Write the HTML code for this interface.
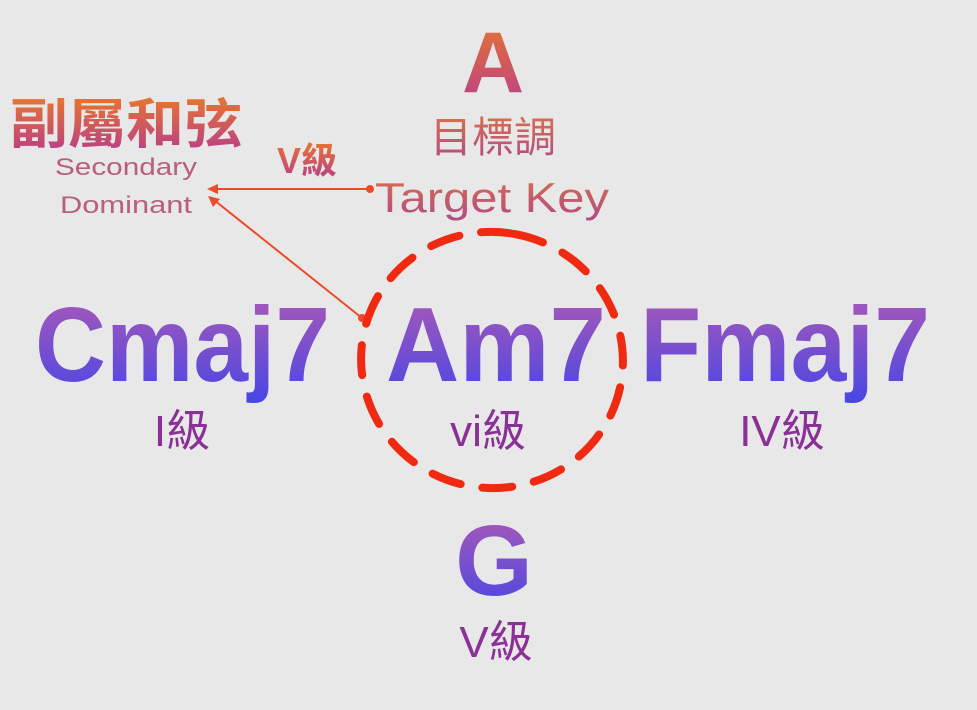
<!DOCTYPE html>
<html><head><meta charset="utf-8"><style>
html,body{margin:0;padding:0;background:#e8e8e8;}
svg{display:block;}
</style></head><body>
<svg width="977" height="710" viewBox="0 0 977 710" xmlns="http://www.w3.org/2000/svg">
<defs>
<linearGradient id="pg" x1="0" y1="0" x2="0" y2="1">
<stop offset="0" stop-color="#b05ab4"/><stop offset="1" stop-color="#4646e6"/>
</linearGradient>
<linearGradient id="og" x1="0" y1="0" x2="0" y2="1">
<stop offset="0" stop-color="#e8782c"/><stop offset="1" stop-color="#b83c8c"/>
</linearGradient>
<linearGradient id="og2" x1="0" y1="0" x2="0" y2="1">
<stop offset="0" stop-color="#d9704a"/><stop offset="1" stop-color="#b24a88"/>
</linearGradient>
</defs>
<rect width="977" height="710" fill="#e8e8e8"/>
<g font-family="'Liberation Sans','Noto Sans CJK TC',sans-serif">
<text x="493" y="92" font-size="86" font-weight="bold" fill="url(#og)" text-anchor="middle">A</text>
<text x="493" y="152" font-size="42" fill="url(#og2)" text-anchor="middle">目標調</text>
<text x="492" y="212" font-size="42" fill="url(#og2)" text-anchor="middle" textLength="234" lengthAdjust="spacingAndGlyphs">Target Key</text>
<text x="10" y="143" font-size="54" font-weight="bold" fill="url(#og)" textLength="232" lengthAdjust="spacingAndGlyphs">副屬和弦</text>
<text x="126" y="175" font-size="24" fill="#b8607a" text-anchor="middle" textLength="142" lengthAdjust="spacingAndGlyphs">Secondary</text>
<text x="126" y="213" font-size="24" fill="#b8607a" text-anchor="middle" textLength="132" lengthAdjust="spacingAndGlyphs">Dominant</text>
<text x="307" y="173" font-size="36" font-weight="bold" fill="url(#og)" text-anchor="middle">V級</text>
<g stroke="#ee4a2a" stroke-width="2" fill="#ee4a2a">
<line x1="370" y1="189" x2="214" y2="189"/>
<circle cx="370" cy="189" r="3"/>
<polygon points="207,189 218,184 218,194" stroke="none"/>
<line x1="362" y1="318" x2="214" y2="200"/>
<circle cx="362" cy="318" r="3"/>
<polygon points="208,196 220,199 213,207" stroke="none"/>
</g>
<ellipse cx="492" cy="360" rx="128" ry="131" fill="none" stroke="#f02a10" stroke-width="8" stroke-linecap="round" stroke-dasharray="30 22" transform="rotate(-80 492 360)"/>
<text x="35" y="381" font-size="106" font-weight="bold" fill="url(#pg)" textLength="295" lengthAdjust="spacingAndGlyphs">Cmaj7</text>
<text x="386" y="381" font-size="106" font-weight="bold" fill="url(#pg)" textLength="220" lengthAdjust="spacingAndGlyphs">Am7</text>
<text x="640" y="381" font-size="106" font-weight="bold" fill="url(#pg)" textLength="290" lengthAdjust="spacingAndGlyphs">Fmaj7</text>
<text x="494" y="595" font-size="100" font-weight="bold" fill="url(#pg)" text-anchor="middle">G</text>
<g fill="#8a3096" font-size="44" text-anchor="middle">
<text x="182" y="446">I級</text>
<text x="488" y="446">vi級</text>
<text x="782" y="446">IV級</text>
<text x="496" y="657">V級</text>
</g>
</g>
</svg>
</body></html>
